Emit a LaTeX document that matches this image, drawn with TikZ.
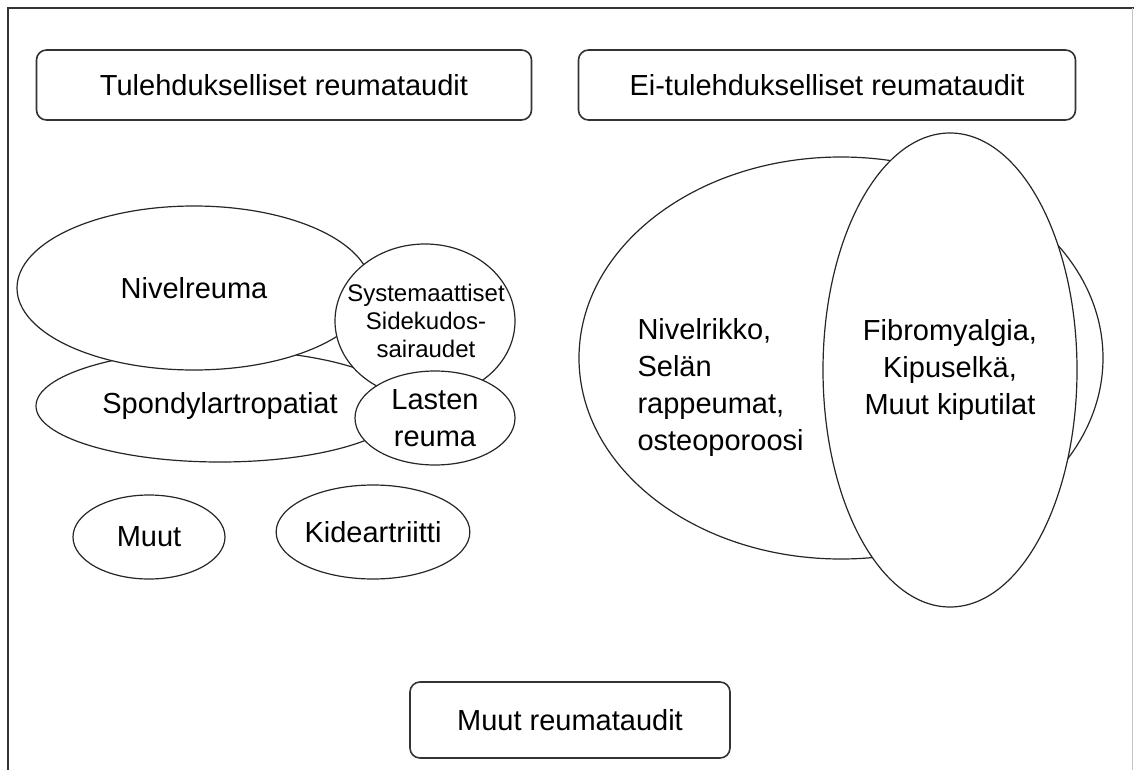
\documentclass[tikz,border=0pt]{standalone}
\usepackage{fontspec}
\setmainfont{Liberation Sans}
\usetikzlibrary{shapes.geometric}

\tikzset{
  blob/.style={ellipse, draw=black!85, line width=1.2pt, fill=white, inner sep=0pt, align=center},
  kat/.style={draw=black!80, line width=1.6pt, rounded corners=10pt, fill=white, inner sep=0pt},
  smalltxt/.style={font=\fontsize{24}{28}\selectfont}
}

\begin{document}
\begin{tikzpicture}[x=1pt, y=-1pt, font=\fontsize{29}{37}\selectfont]
    \useasboundingbox (0,0) rectangle (1134,770);
    \draw[line width=2pt, black!80] (8,770) -- (8,8) -- (1134,8);
    \draw[gray!45] (1132.5,8) -- (1132.5,770);

    \node[kat, minimum width=495pt, minimum height=70pt] (tul)   at (284,85)  {Tulehdukselliset reumataudit};
    \node[kat, minimum width=497pt, minimum height=70pt] (eitul) at (827,85)  {Ei-tulehdukselliset reumataudit};
    \node[kat, minimum width=320pt, minimum height=76pt] (muutr) at (570,720) {Muut reumataudit};

    \node[blob, minimum width=368pt, minimum height=112pt] (spond)  at (220,406) {Spondylartropatiat};
    \node[blob, minimum width=354pt, minimum height=164pt] (nivel)  at (194,288) {Nivelreuma};
    \node[blob, minimum width=180pt, minimum height=154pt] (syst)   at (425,321) {};
    \node[smalltxt, align=center] (systt) at (426,321) {Systemaattiset\\Sidekudos-\\sairaudet};
    \node[blob, minimum width=160pt, minimum height=94pt]  (lasten) at (435,418) {Lasten\\reuma};

    \node[blob, minimum width=152pt, minimum height=84pt]  (muut) at (149,537) {Muut};
    \node[blob, minimum width=189pt, minimum height=94pt]  (kide) at (373,532) {Kideartriitti};

    \node[blob, minimum width=524pt, minimum height=402pt] (rikko) at (841,358) {};
    \node[anchor=west, align=left] (rikkot) at (634,387) {Nivelrikko,\\Selän\\rappeumat,\\osteoporoosi};
    \node[blob, minimum width=254pt, minimum height=474pt] (fibro) at (950,370) {Fibromyalgia,\\Kipuselkä,\\Muut kiputilat};
\end{tikzpicture}
\end{document}
